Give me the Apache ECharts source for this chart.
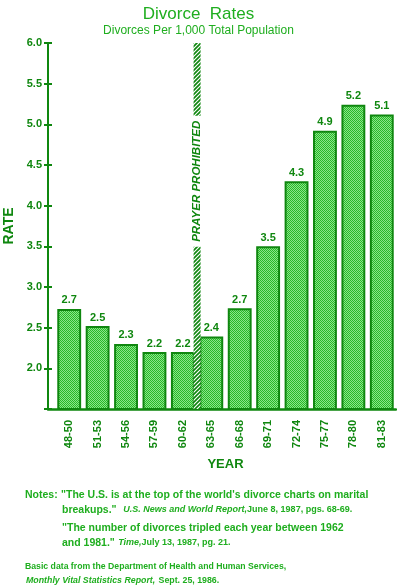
<!DOCTYPE html>
<html>
<head>
<meta charset="utf-8">
<script src="https://cdn.jsdelivr.net/npm/echarts@6/dist/echarts.min.js"></script>
<style>
  html, body { margin: 0; padding: 0; background: #fff; }
  #chart { width: 397px; height: 588px; }
</style>
</head>
<body>
<div id="chart"></div>
<script>
// data
const years = ['48-50', '51-53', '54-56', '57-59', '60-62', '63-65', '66-68', '69-71', '72-74', '75-77', '78-80', '81-83'];
const rates = [2.73, 2.52, 2.3, 2.2, 2.2, 2.39, 2.74, 3.5, 4.3, 4.92, 5.24, 5.12];
const yMin = 1.5, yMax = 6.0, yStep = 0.5;
const prayerAfter = '60-62';   // the ban falls between this group and the next
const prayerLabel = 'PRAYER PROHIBITED';
const prayerLabelAt = 4.3;

const dark = '#0f870f';
const bright = '#1fae1f';
const font = 'Liberation Sans';

// stippled fill of the bars
function stipple() {
  const c = document.createElement('canvas');
  c.width = 2; c.height = 2;
  const g = c.getContext('2d');
  g.fillStyle = '#8ae48a'; g.fillRect(0, 0, 2, 2);
  g.fillStyle = '#28b828'; g.fillRect(0, 0, 1, 1); g.fillRect(1, 1, 1, 1);
  return c;
}
// diagonal hatch of the prayer strip
function hatch() {
  const c = document.createElement('canvas');
  c.width = 4; c.height = 4;
  const g = c.getContext('2d');
  g.fillStyle = '#fff'; g.fillRect(0, 0, 4, 4);
  g.strokeStyle = dark; g.lineWidth = 1.7;
  g.beginPath();
  g.moveTo(-1, 5); g.lineTo(5, -1);
  g.moveTo(-1, 1); g.lineTo(1, -1);
  g.moveTo(3, 5); g.lineTo(5, 3);
  g.stroke();
  return c;
}

const myChart = echarts.init(document.getElementById('chart'));

const option = {
  backgroundColor: '#fff',
  animation: false,
  title: {
    text: 'Divorce  Rates',
    subtext: 'Divorces Per 1,000 Total Population',
    left: 'center',
    top: 1,
    itemGap: 2,
    textStyle: { fontFamily: font, fontSize: 17, fontWeight: 'normal', color: bright },
    subtextStyle: { fontFamily: font, fontSize: 12, color: bright }
  },
  grid: [
    { left: 48, right: 1, top: 43, bottom: 179, outerBoundsMode: 'none' },
    { left: 55, right: 1, top: 43, bottom: 179, outerBoundsMode: 'none' }
  ],
  xAxis: [
    {
      gridIndex: 0, type: 'value', min: 0, max: 1,
      axisLine: { show: true, lineStyle: { color: dark, width: 2.5 } },
      axisTick: { show: false }, axisLabel: { show: false }, splitLine: { show: false }
    },
    {
      gridIndex: 1, type: 'category', data: years,
      axisLine: { show: false }, axisTick: { show: false },
      axisLabel: { rotate: 90, margin: 11, color: dark, fontFamily: font, fontWeight: 'bold', fontSize: 11 },
      name: 'YEAR', nameLocation: 'middle', nameGap: 49,
      nameTextStyle: { color: dark, fontFamily: font, fontWeight: 'bold', fontSize: 13 }
    }
  ],
  yAxis: [
    {
      gridIndex: 0, type: 'value', min: yMin, max: yMax, interval: yStep,
      axisLine: { show: true, onZero: false, lineStyle: { color: dark, width: 2 } },
      axisTick: { show: true, length: 4, lineStyle: { color: dark, width: 2 } },
      axisLabel: {
        margin: 6, color: dark, fontFamily: font, fontWeight: 'bold', fontSize: 11,
        formatter: v => (v === yMin ? '' : v.toFixed(1))
      },
      splitLine: { show: false },
      name: 'RATE', nameLocation: 'middle', nameGap: 28, nameRotate: 90,
      nameTextStyle: { color: dark, fontFamily: font, fontWeight: 'bold', fontSize: 14 }
    },
    {
      gridIndex: 0, type: 'value', min: yMin, max: yMax, interval: yStep, position: 'left', offset: 0,
      axisLine: { show: false, onZero: false },
      axisTick: { show: true, inside: true, length: 4, lineStyle: { color: dark, width: 2 } },
      axisLabel: { show: false }, splitLine: { show: false }
    },
    {
      gridIndex: 1, type: 'value', min: yMin, max: yMax, show: false
    }
  ],
  series: [
    {
      type: 'bar',
      xAxisIndex: 1, yAxisIndex: 2,
      data: rates,
      barCategoryGap: '16%',
      itemStyle: {
        color: { image: stipple(), repeat: 'repeat' },
        borderColor: dark, borderWidth: 2
      },
      label: {
        show: true, position: 'top', distance: 3,
        color: dark, fontFamily: font, fontWeight: 'bold', fontSize: 11,
        formatter: p => p.value.toFixed(1)
      }
    },
    {
      type: 'custom',
      xAxisIndex: 1, yAxisIndex: 2,
      data: [[years.indexOf(prayerAfter), prayerLabelAt]],
      z: 5,
      renderItem: function (params, api) {
        const band = api.size([1, 0])[0];
        const top = api.coord([api.value(0), yMax]);
        const bottom = api.coord([api.value(0), yMin]);
        const x = top[0] + band / 2;
        const labelY = api.coord([api.value(0), api.value(1)])[1];
        return {
          type: 'group',
          children: [
            {
              type: 'rect',
              shape: { x: x - 3.5, y: top[1], width: 7, height: bottom[1] - top[1] },
              style: { fill: { image: hatch(), repeat: 'repeat' } }
            },
            {
              type: 'text',
              x: x, y: labelY, rotation: Math.PI / 2,
              style: {
                text: prayerLabel, fill: dark,
                font: 'italic bold 11.5px "Liberation Sans"',
                align: 'center', verticalAlign: 'middle',
                backgroundColor: '#fff', padding: [3, 5]
              }
            }
          ]
        };
      }
    }
  ],
  graphic: [
    {
      type: 'text', left: 25, top: 490,
      style: { text: 'Notes:', fill: bright, font: 'bold 10.5px "Liberation Sans"' }
    },
    {
      type: 'text', left: 61, top: 490,
      style: { text: '"The U.S. is at the top of the world\'s divorce charts on marital', fill: bright, font: 'bold 10.5px "Liberation Sans"' }
    },
    {
      type: 'text', left: 62, top: 504,
      style: {
        text: '{a|breakups."}  {i|U.S. News and World Report,}{s|June 8, 1987, pgs. 68-69.}',
        rich: {
          a: { fill: bright, font: 'bold 10.5px "Liberation Sans"' },
          i: { fill: bright, font: 'italic bold 9px "Liberation Sans"' },
          s: { fill: bright, font: 'bold 9px "Liberation Sans"' }
        }
      }
    },
    {
      type: 'text', left: 62, top: 523,
      style: { text: '"The number of divorces tripled each year between 1962', fill: bright, font: 'bold 10.5px "Liberation Sans"' }
    },
    {
      type: 'text', left: 62, top: 537,
      style: {
        text: '{a|and 1981."} {i|Time,}{s|July 13, 1987, pg. 21.}',
        rich: {
          a: { fill: bright, font: 'bold 10.5px "Liberation Sans"' },
          i: { fill: bright, font: 'italic bold 9px "Liberation Sans"' },
          s: { fill: bright, font: 'bold 9px "Liberation Sans"' }
        }
      }
    },
    {
      type: 'text', left: 25, top: 562,
      style: { text: 'Basic data from the Department of Health and Human Services,', fill: bright, font: 'bold 8.7px "Liberation Sans"' }
    },
    {
      type: 'text', left: 26, top: 575,
      style: {
        text: '{i|Monthly Vital Statistics Report,} {s|Sept. 25, 1986.}',
        rich: {
          i: { fill: bright, font: 'italic bold 8.8px "Liberation Sans"' },
          s: { fill: bright, font: 'bold 8.8px "Liberation Sans"' }
        }
      }
    }
  ]
};

myChart.setOption(option);
</script>
</body>
</html>
